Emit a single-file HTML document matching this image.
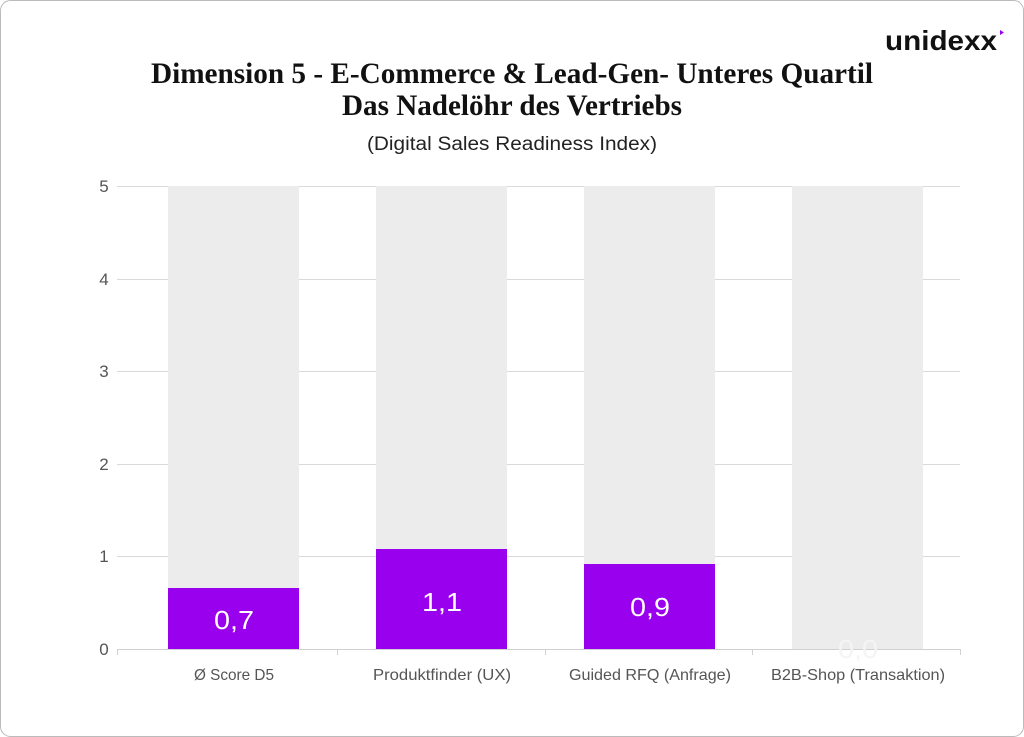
<!DOCTYPE html>
<html><head><meta charset="utf-8"><style>
body{margin:0;background:#fff}
svg{display:block}
</style></head><body>
<svg width="1024" height="737" viewBox="0 0 1024 737" xmlns="http://www.w3.org/2000/svg">
<rect x="0.5" y="0.5" width="1023" height="736" rx="10" fill="#fff" stroke="#bbb"/>
<text x="941" y="50" font-family="Liberation Sans, sans-serif" font-weight="bold" font-size="28" text-anchor="middle" fill="#111" textLength="112" lengthAdjust="spacingAndGlyphs">unidexx</text>
<path d="M1000 30 l4 2.5 l-4 2.5z" fill="#9a00ee"/>
<text x="512" y="83" font-family="Liberation Serif, serif" font-weight="bold" font-size="30" text-anchor="middle" fill="#111" textLength="722" lengthAdjust="spacingAndGlyphs">Dimension 5 - E-Commerce &amp; Lead-Gen- Unteres Quartil</text>
<text x="512" y="115" font-family="Liberation Serif, serif" font-weight="bold" font-size="30" text-anchor="middle" fill="#111" textLength="340" lengthAdjust="spacingAndGlyphs">Das Nadelöhr des Vertriebs</text>
<text x="512" y="150" font-family="Liberation Sans, sans-serif" font-size="19" text-anchor="middle" fill="#222" textLength="290" lengthAdjust="spacingAndGlyphs">(Digital Sales Readiness Index)</text>
<g stroke="#d9d9d9" stroke-width="1">
<line x1="117" x2="960" y1="186.5" y2="186.5"/>
<line x1="117" x2="960" y1="279.5" y2="279.5"/>
<line x1="117" x2="960" y1="371.5" y2="371.5"/>
<line x1="117" x2="960" y1="464.5" y2="464.5"/>
<line x1="117" x2="960" y1="556.5" y2="556.5"/>
</g>
<g fill="#ececec">
<rect x="168" y="186" width="131" height="463"/>
<rect x="376" y="186" width="131" height="463"/>
<rect x="584" y="186" width="131" height="463"/>
<rect x="792" y="186" width="131" height="463"/>
</g>
<g fill="#9900ee">
<rect x="168" y="588" width="131" height="61"/>
<rect x="376" y="549" width="131" height="100"/>
<rect x="584" y="564" width="131" height="85"/>
</g>
<g stroke="#d0d0d0"><line x1="117" x2="960" y1="649.5" y2="649.5"/>
<line x1="117.5" x2="117.5" y1="649" y2="655"/><line x1="337.5" x2="337.5" y1="649" y2="655"/><line x1="545.5" x2="545.5" y1="649" y2="655"/><line x1="752.5" x2="752.5" y1="649" y2="655"/><line x1="960.5" x2="960.5" y1="649" y2="655"/></g>
<g font-family="Liberation Sans, sans-serif" font-size="26" fill="#fff" text-anchor="middle">
<text x="234" y="629" textLength="40" lengthAdjust="spacingAndGlyphs">0,7</text><text x="442" y="611" textLength="40" lengthAdjust="spacingAndGlyphs">1,1</text><text x="650" y="616" textLength="40" lengthAdjust="spacingAndGlyphs">0,9</text><text x="858" y="658" fill="#f4f4f4" textLength="40" lengthAdjust="spacingAndGlyphs">0,0</text>
</g>
<g font-family="Liberation Sans, sans-serif" font-size="17" fill="#555" text-anchor="middle">
<text x="104" y="192">5</text><text x="104" y="285">4</text><text x="104" y="377">3</text><text x="104" y="470">2</text><text x="104" y="562">1</text><text x="104" y="655">0</text>
</g>
<g font-family="Liberation Sans, sans-serif" font-size="16" fill="#555" text-anchor="middle">
<text x="234" y="680" textLength="80" lengthAdjust="spacingAndGlyphs">Ø Score D5</text><text x="442" y="680" textLength="138" lengthAdjust="spacingAndGlyphs">Produktfinder (UX)</text><text x="650" y="680" textLength="162" lengthAdjust="spacingAndGlyphs">Guided RFQ (Anfrage)</text><text x="858" y="680" textLength="174" lengthAdjust="spacingAndGlyphs">B2B-Shop (Transaktion)</text>
</g>
</svg>
</body></html>
